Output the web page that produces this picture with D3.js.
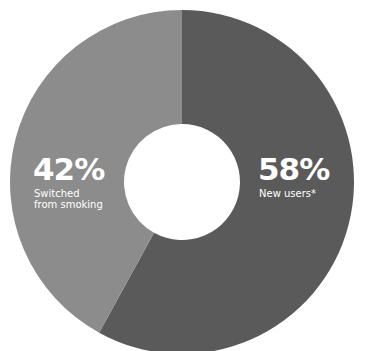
<!DOCTYPE html>
<html>
<head>
<meta charset="utf-8">
<script src="https://cdnjs.cloudflare.com/ajax/libs/d3/7.8.5/d3.min.js"></script>
<style>
  body { margin: 0; background: #fff; }
  text { font-family: "DejaVu Sans", "Noto Sans", sans-serif; fill: #fff; }
</style>
</head>
<body>
<div id="chart"></div>
<script>
var labels = ["New users*", "Switched\nfrom smoking"];
var values = [58, 42];
var colors = ["#5a5a5a", "#8c8c8c"];

var w = 365, h = 351;
var cx = 182, cy = 182;

var svg = d3.select("#chart").append("svg")
    .attr("width", w)
    .attr("height", h);

var pie = d3.pie().sort(null).value(function (d) { return d; });
var arc = d3.arc().innerRadius(58).outerRadius(172);

var g = svg.append("g").attr("transform", "translate(" + cx + "," + cy + ")");

g.selectAll("path")
    .data(pie(values))
    .enter().append("path")
    .attr("d", arc)
    .attr("fill", function (d, i) { return colors[i]; });

// label positions (left x, baseline of the big number)
var labelPos = [[258, 180], [33, 180]];

labelPos.forEach(function (p, i) {
    svg.append("text")
        .attr("x", p[0])
        .attr("y", p[1])
        .attr("font-size", 31)
        .attr("font-weight", "bold")
        .attr("letter-spacing", -1)
        .text(values[i] + "%");
    var lines = labels[i].split("\n");
    lines.forEach(function (l, j) {
        svg.append("text")
            .attr("x", p[0] + 1)
            .attr("y", p[1] + 17 + j * 11)
            .attr("font-size", 10)
            .text(l);
    });
});
</script>
</body>
</html>
